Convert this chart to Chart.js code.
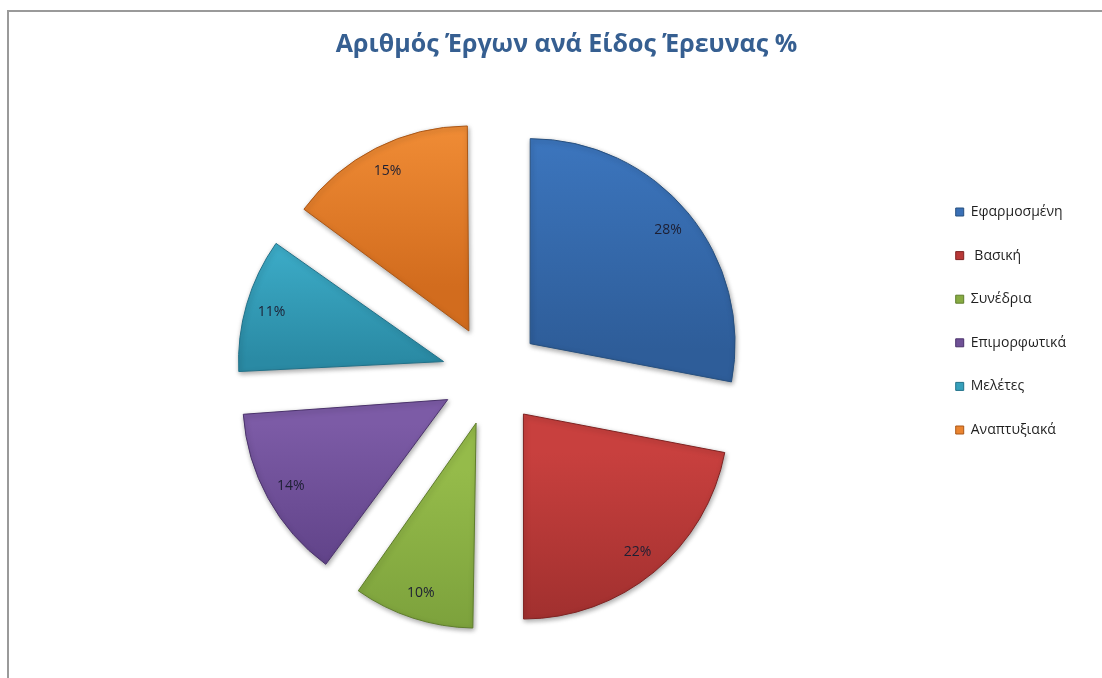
<!DOCTYPE html>
<html>
<head>
<meta charset="utf-8">
<script src="https://cdn.jsdelivr.net/npm/chart.js@4.4.1/dist/chart.umd.min.js"></script>
<style>
  html, body { margin: 0; padding: 0; background: #ffffff; overflow: hidden; width: 1102px; height: 678px; }
  #frame { position: absolute; left: 7px; top: 10px; width: 2000px; height: 2000px;
           border-top: 2px solid #9a9a9a; border-left: 2px solid #9a9a9a; }
  #wrap { position: absolute; left: 8px; top: 11px; width: 1106px; height: 680px; }
</style>
</head>
<body>
<div id="frame"></div>
<div id="wrap"><canvas id="chart"></canvas></div>
<script>
// ---- data ----
const titleText = 'Αριθμός Έργων ανά Είδος Έρευνας %';
const categories = ['Εφαρμοσμένη', ' Βασική', 'Συνέδρια', 'Επιμορφωτικά', 'Μελέτες', 'Αναπτυξιακά'];
const percentages = [28, 22, 10, 14, 11, 15];

// ---- styles ----
const baseColors   = ['#3a70b6', '#b83837', '#87ab42', '#6f5196', '#36a0bb', '#ea8430'];
const topColors    = ['#3e79c3', '#c8403e', '#95bb4a', '#7c5ba6', '#3fb1cd', '#f8953c'];
const bottomColors = ['#2e5d99', '#982c2b', '#759a38', '#5c3f84', '#2a8aa4', '#d26c1e'];
const edgeColors   = ['#27507f', '#7f2322', '#5f7d2c', '#4a326b', '#217189', '#aa5717'];
const pieRadius = 205;
const explode = 200;      // Chart.js arc offset (translation = offset / 4)
const labelDist = 179;    // distance of % labels from slice tip

const slicePlugin = {
  id: 'sliceStyle',
  beforeDatasetDraw(chart, args) {
    const meta = args.meta;
    const R = meta.controller.outerRadius;
    const ctx = chart.ctx;
    meta.data.forEach((el, i) => {
      const t = (el.options.offset || 0) / 4;
      const fix = 1 - Math.sin(Math.min(Math.PI, el.circumference));
      el.outerRadius = R - t * fix;
      const mid = (el.startAngle + el.endAngle) / 2;
      const ty = el.y + Math.sin(mid) * t;
      let minY = ty, maxY = ty;
      for (let k = 0; k <= 40; k++) {
        const a = el.startAngle + (el.endAngle - el.startAngle) * k / 40;
        const py = ty + Math.sin(a) * R;
        minY = Math.min(minY, py); maxY = Math.max(maxY, py);
      }
      const g = ctx.createLinearGradient(0, minY, 0, maxY);
      g.addColorStop(0, topColors[i]);
      g.addColorStop(1, bottomColors[i]);
      el.options.backgroundColor = g;
    });
    ctx.save();
    ctx.shadowColor = 'rgba(0,0,0,0.35)';
    ctx.shadowBlur = 5;
    ctx.shadowOffsetX = 1;
    ctx.shadowOffsetY = 2;
  },
  afterDatasetDraw(chart, args) {
    const ctx = chart.ctx;
    ctx.restore();
    ctx.save();
    ctx.font = '14px "Open Sans"';
    ctx.fillStyle = '#1d1f33';
    ctx.textAlign = 'center';
    ctx.textBaseline = 'middle';
    args.meta.data.forEach((el, i) => {
      const t = (el.options.offset || 0) / 4;
      const mid = (el.startAngle + el.endAngle) / 2;
      const d = t + labelDist;
      ctx.fillText(percentages[i] + '%', el.x + Math.cos(mid) * d, el.y + Math.sin(mid) * d);
    });
    ctx.restore();
  }
};

new Chart(document.getElementById('chart'), {
  type: 'pie',
  data: {
    labels: categories,
    datasets: [{
      data: percentages,
      backgroundColor: baseColors,
      borderColor: edgeColors,
      borderWidth: 1,
      offset: explode,
      radius: pieRadius
    }]
  },
  options: {
    responsive: true,
    maintainAspectRatio: false,
    animation: false,
    events: [],
    layout: { padding: { left: 49, right: 38, top: 0, bottom: 20 } },
    plugins: {
      title: {
        display: true,
        text: titleText,
        color: '#365f91',
        font: { family: 'Open Sans', size: 25, weight: 'bold' },
        padding: { top: 19, bottom: 20 }
      },
      legend: {
        position: 'right',
        align: 'start',
        title: { display: true, text: '', font: { size: 12 }, padding: { top: 150, bottom: 0 } },
        labels: {
          boxWidth: 8,
          boxHeight: 8,
          padding: 29.6,
          color: '#1f1f1f',
          font: { family: 'Open Sans', size: 14 }
        }
      },
      tooltip: { enabled: false }
    }
  },
  plugins: [slicePlugin]
});
</script>
</body>
</html>
